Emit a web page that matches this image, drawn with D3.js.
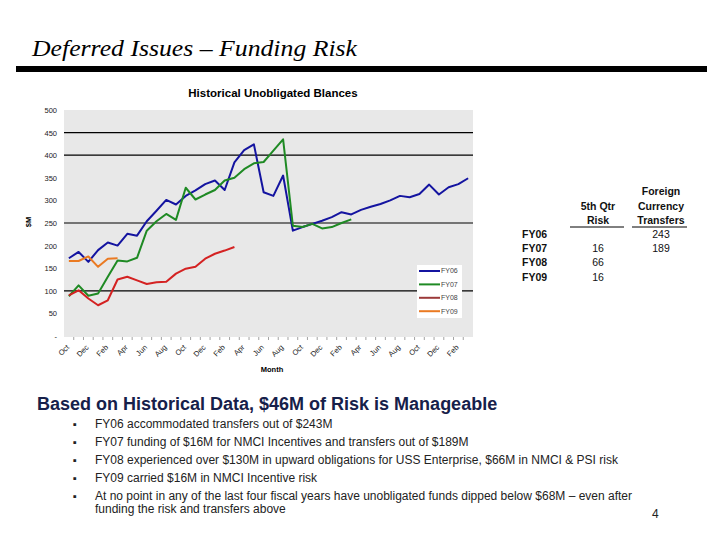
<!DOCTYPE html>
<html>
<head>
<meta charset="utf-8">
<script src="https://cdn.jsdelivr.net/npm/d3@7"></script>
<style>
  body { margin: 0; background: #fff; }
  svg { display: block; font-family: Arial, "Liberation Sans", sans-serif; }
</style>
</head>
<body>
<div id="chart"></div>
<script>
// months Oct .. Mar, 42 of them
let months = ["Oct","Nov","Dec","Jan","Feb","Mar","Apr","May","Jun","Jul","Aug","Sep",
  "Oct","Nov","Dec","Jan","Feb","Mar","Apr","May","Jun","Jul","Aug","Sep",
  "Oct","Nov","Dec","Jan","Feb","Mar","Apr","May","Jun","Jul","Aug","Sep",
  "Oct","Nov","Dec","Jan","Feb","Mar"];

let fy06 = [172,186,164,190,207,200,226,222,254,277,301,291,310,322,336,344,323,384,411,424,318,310,355,233,241,248,255,263,274,269,279,286,292,300,310,307,314,335,313,329,336,349];
let fy07 = [88,112,89,94,131,167,165,173,233,254,270,257,328,302,313,323,344,350,369,382,385,410,435,244,241,248,238,241,250,258];
let fy08 = [90,101,83,68,79,125,131,123,115,119,120,138,149,153,171,182,189,197];
let fy09 = [166,166,176,153,171,172];

let seriesNames = ["FY06", "FY07", "FY08", "FY09"];
let seriesColors = ["#1414a0", "#1f8a24", "#d42222", "#ea7a22"];
let legendColors = ["#1414a0", "#1f8a24", "#9c3a3a", "#ea7a22"];

let yTicks = [0, 50, 100, 150, 200, 250, 300, 350, 400, 450, 500];
let gridValues = [100, 250, 400, 450];

// side table
let tableRows = ["FY06", "FY07", "FY08", "FY09"];
let qtrRisk = ["", "16", "66", "16"];
let fcTransfers = ["243", "189", "", ""];

let bullets = [
  ["FY06 accommodated transfers out of $243M"],
  ["FY07 funding of $16M for NMCI Incentives and transfers out of $189M"],
  ["FY08 experienced over $130M in upward obligations for USS Enterprise, $66M in NMCI & PSI risk"],
  ["FY09 carried $16M in NMCI Incentive risk"],
  ["At no point in any of the last four fiscal years have unobligated funds dipped below $68M \u2013 even after",
   "funding the risk and transfers above"]
];

/////////////////////////////
let svg = d3.select("#chart").append("svg")
  .attr("width", 720)
  .attr("height", 540);

// page title + bar
svg.append("text")
  .attr("x", 32).attr("y", 56)
  .attr("font-family", "'Liberation Serif', 'DejaVu Serif', serif")
  .attr("font-style", "italic")
  .attr("font-size", 24)
  .attr("textLength", 325)
  .attr("lengthAdjust", "spacingAndGlyphs")
  .attr("fill", "#000")
  .text("Deferred Issues \u2013 Funding Risk");

svg.append("rect")
  .attr("x", 16).attr("y", 66)
  .attr("width", 691).attr("height", 6)
  .attr("fill", "#000");

/////////////////////////////
let plot = { left: 64, right: 473, top: 110, bottom: 337 };

let xScale = d3.scaleBand()
  .domain(d3.range(months.length))
  .range([plot.left, plot.right])
  .padding(0);

let yScale = d3.scaleLinear()
  .domain([0, 500])
  .range([336, 110]);

let chart = svg.append("g");

chart.append("rect")
  .attr("x", plot.left).attr("y", plot.top)
  .attr("width", plot.right - plot.left)
  .attr("height", plot.bottom - plot.top)
  .attr("fill", "#e8e8e8");

chart.append("text")
  .attr("x", 273).attr("y", 97)
  .attr("text-anchor", "middle")
  .attr("font-size", 11.5)
  .attr("font-weight", "bold")
  .text("Historical Unobligated Blances");

// grid lines
chart.append("g")
  .selectAll("line")
  .data(gridValues)
  .join("line")
  .attr("x1", plot.left).attr("x2", plot.right)
  .attr("y1", d => yScale(d)).attr("y2", d => yScale(d))
  .attr("stroke", "#000")
  .attr("stroke-width", 1.2);

// y axis
let yAxis = d3.axisLeft(yScale)
  .tickValues(yTicks)
  .tickSize(0)
  .tickPadding(0)
  .tickFormat(d => d === 0 ? "-" : d);

let yAxisG = chart.append("g")
  .attr("transform", `translate(${plot.left - 7},0)`)
  .call(yAxis);
yAxisG.select(".domain").remove();
yAxisG.selectAll("text").attr("font-size", 7.5).attr("fill", "#222");

chart.append("text")
  .attr("transform", "translate(31,222) rotate(-90)")
  .attr("text-anchor", "middle")
  .attr("font-size", 7.5)
  .attr("font-weight", "bold")
  .text("$M");

// x axis: ticks between categories, every other label
let xAxisG = chart.append("g")
  .attr("transform", `translate(0,${plot.bottom})`);

xAxisG.selectAll("line")
  .data(d3.range(1, months.length))
  .join("line")
  .attr("x1", d => xScale(d)).attr("x2", d => xScale(d))
  .attr("y1", 0).attr("y2", 3)
  .attr("stroke", "#333")
  .attr("stroke-opacity", 0.45);

xAxisG.selectAll("text")
  .data(months.map((m, i) => ({ m, i })).filter(d => d.i % 2 === 0))
  .join("text")
  .attr("transform", d => `translate(${xScale(d.i) + xScale.bandwidth() / 2 - 1},9) rotate(-45)`)
  .attr("text-anchor", "end")
  .attr("dy", "0.35em")
  .attr("font-size", 7.5)
  .attr("fill", "#222")
  .text(d => d.m);

chart.append("text")
  .attr("x", 272).attr("y", 372)
  .attr("text-anchor", "middle")
  .attr("font-size", 7.5)
  .attr("font-weight", "bold")
  .text("Month");

/////////////////////////////
let line = d3.line()
  .x((d, i) => xScale(i) + xScale.bandwidth() / 2)
  .y(d => yScale(d));

let allSeries = [fy06, fy07, fy08, fy09];

chart.append("g")
  .selectAll("path")
  .data(allSeries)
  .join("path")
  .attr("d", d => line(d))
  .attr("fill", "none")
  .attr("stroke", (d, i) => seriesColors[i])
  .attr("stroke-width", 2)
  .attr("stroke-linejoin", "round");

// legend
let legend = chart.append("g").attr("transform", "translate(417,265)");
legend.append("rect")
  .attr("width", 45).attr("height", 53)
  .attr("fill", "#fff");
let legendItems = legend.selectAll("g")
  .data(seriesNames)
  .join("g")
  .attr("transform", (d, i) => `translate(0,${6 + i * 13.4})`);
legendItems.append("line")
  .attr("x1", 2).attr("x2", 23)
  .attr("stroke", (d, i) => legendColors[i])
  .attr("stroke-width", 2);
legendItems.append("text")
  .attr("x", 24).attr("dy", "0.35em")
  .attr("font-size", 7)
  .attr("fill", "#444")
  .text(d => d);

/////////////////////////////
let table = svg.append("g").attr("font-size", 10.5).attr("fill", "#111");
let colRisk = 598, colFc = 661;

[["Foreign", 195], ["Currency", 210], ["Transfers", 224]].forEach(([t, y]) => {
  table.append("text").attr("x", colFc).attr("y", y)
    .attr("text-anchor", "middle").attr("font-weight", "bold").text(t);
});
[["5th Qtr", 210], ["Risk", 224]].forEach(([t, y]) => {
  table.append("text").attr("x", colRisk).attr("y", y)
    .attr("text-anchor", "middle").attr("font-weight", "bold").text(t);
});
table.append("line").attr("x1", 570).attr("x2", 624).attr("y1", 227).attr("y2", 227)
  .attr("stroke", "#000");
table.append("line").attr("x1", 632).attr("x2", 687).attr("y1", 227).attr("y2", 227)
  .attr("stroke", "#000");

tableRows.forEach((r, i) => {
  let y = 238 + i * 14.2;
  table.append("text").attr("x", 522).attr("y", y).attr("font-weight", "bold").text(r);
  table.append("text").attr("x", colRisk).attr("y", y).attr("text-anchor", "middle").text(qtrRisk[i]);
  table.append("text").attr("x", colFc).attr("y", y).attr("text-anchor", "middle").text(fcTransfers[i]);
});

/////////////////////////////
svg.append("text")
  .attr("x", 37).attr("y", 410)
  .attr("font-size", 18)
  .attr("font-weight", "bold")
  .attr("fill", "#16204a")
  .text("Based on Historical Data, $46M of Risk is Manageable");

let by = 428;
bullets.forEach(lines => {
  svg.append("text").attr("x", 73).attr("y", by)
    .attr("font-size", 11).attr("fill", "#222").text("\u25AA");
  lines.forEach((t, j) => {
    svg.append("text").attr("x", 95).attr("y", by + j * 13)
      .attr("font-size", 12).attr("fill", "#222").text(t);
  });
  by += 18;
});

svg.append("text")
  .attr("x", 652).attr("y", 518)
  .attr("font-size", 12)
  .attr("fill", "#222")
  .text("4");
</script>
</body>
</html>
